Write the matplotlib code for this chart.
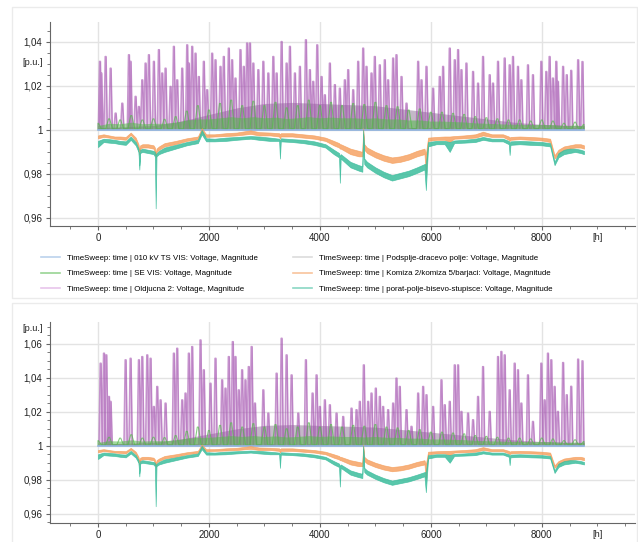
import numpy as np
import matplotlib
matplotlib.use('Agg')
import matplotlib.pyplot as plt
from matplotlib.lines import Line2D
from matplotlib.patches import Rectangle
from matplotlib.ticker import MultipleLocator, FuncFormatter

plt.rcParams['font.family'] = ['Liberation Sans Narrow', 'Liberation Sans', 'DejaVu Sans']

# ---- series data (hour of year -> voltage in p.u.) ----
labels = [
    'TimeSweep: time | 010 kV TS VIS: Voltage, Magnitude',
    'TimeSweep: time | SE VIS: Voltage, Magnitude',
    'TimeSweep: time | Oldjucna 2: Voltage, Magnitude',
    'TimeSweep: time | Podsplje-dracevo polje: Voltage, Magnitude',
    'TimeSweep: time | Komiza 2/komiza 5/barjaci: Voltage, Magnitude',
    'TimeSweep: time | porat-polje-bisevo-stupisce: Voltage, Magnitude',
]

# 010 kV TS VIS (slack, flat)
blue_hours = [0, 8760]
blue_vals = [1.0, 1.0]

# Komiza / porat-polje envelopes
band_hours = [0, 100, 200, 300, 400, 500, 590, 680, 730, 745,
              760, 800, 900, 1000, 1025, 1040, 1055, 1100, 1200, 1400,
              1600, 1800, 1870, 1950, 2100, 2300, 2500, 2750, 2900, 3100,
              3265, 3280, 3295, 3500, 3700, 3900, 4100, 4250, 4345, 4360,
              4375, 4550, 4700, 4765, 4780, 4800, 4850, 5000, 5150, 5300,
              5450, 5600, 5750, 5885, 5910, 5950, 6100, 6250, 6340, 6420,
              6600, 6800, 6940, 7100, 7300, 7405, 7420, 7435, 7600, 7800,
              8000, 8150, 8230, 8300, 8400, 8500, 8600, 8700, 8760]
orange_hi = [.9975, .9980, .9975, .9970, .9970, .9968, .9988, .9965, .9935, .9910,
             .9930, .9935, .9935, .9930, .9920, .9890, .9915, .9925, .9940, .9950,
             .9962, .9970, 1.0008, .9980, .9980, .9985, .9988, .9998, .9990, .9988,
             .9985, .9980, .9985, .9985, .9980, .9975, .9965, .9950, .9940, .9935,
             .9935, .9915, .9905, .9900, 1.0007, .9935, .9920, .9900, .9885, .9875,
             .9880, .9890, .9905, .9915, .9890, .9965, .9968, .9970, .9970, .9972,
             .9975, .9980, .9992, .9980, .9980, .9970, .9965, .9968, .9970, .9968,
             .9965, .9960, .9885, .9910, .9925, .9930, .9935, .9935, .9930]
orange_lo = [.9962, .9968, .9965, .9960, .9958, .9955, .9978, .9950, .9915, .9890,
             .9915, .9920, .9920, .9915, .9900, .9875, .9900, .9910, .9925, .9935,
             .9950, .9958, .9990, .9968, .9970, .9972, .9975, .9982, .9975, .9975,
             .9970, .9960, .9970, .9970, .9965, .9960, .9950, .9930, .9920, .9915,
             .9915, .9890, .9880, .9880, .9990, .9910, .9895, .9875, .9860, .9850,
             .9855, .9865, .9880, .9890, .9800, .9950, .9955, .9955, .9945, .9960,
             .9962, .9965, .9975, .9968, .9968, .9955, .9950, .9955, .9958, .9955,
             .9952, .9945, .9870, .9890, .9910, .9915, .9920, .9920, .9915]
teal_hi = [.9950, .9960, .9958, .9955, .9950, .9948, .9970, .9945, .9915, .9840,
           .9910, .9915, .9910, .9905, .9900, .9885, .9895, .9905, .9920, .9932,
           .9945, .9955, 1.0000, .9962, .9960, .9965, .9968, .9972, .9970, .9965,
           .9960, .9950, .9962, .9958, .9955, .9948, .9935, .9910, .9895, .9880,
           .9890, .9855, .9840, .9835, 1.0000, .9870, .9855, .9830, .9810, .9795,
           .9805, .9815, .9830, .9845, .9845, .9945, .9950, .9950, .9945, .9952,
           .9955, .9960, .9968, .9960, .9960, .9950, .9940, .9948, .9950, .9948,
           .9945, .9940, .9855, .9895, .9910, .9915, .9915, .9910, .9905]
teal_lo = [.9922, .9945, .9942, .9940, .9935, .9932, .9955, .9930, .9900, .9820,
           .9895, .9900, .9895, .9890, .9880, .9644, .9880, .9890, .9900, .9915,
           .9930, .9940, .9980, .9948, .9948, .9950, .9955, .9960, .9955, .9950,
           .9950, .9870, .9948, .9945, .9940, .9932, .9920, .9890, .9875, .9760,
           .9870, .9830, .9815, .9810, .9980, .9845, .9830, .9805, .9785, .9770,
           .9780, .9790, .9805, .9820, .9727, .9925, .9935, .9935, .9900, .9940,
           .9942, .9945, .9955, .9948, .9948, .9935, .9886, .9932, .9935, .9932,
           .9930, .9925, .9840, .9875, .9890, .9895, .9900, .9895, .9890]

# SE VIS envelope
green_hours = [0, 200, 400, 600, 800, 1000, 1200, 1400, 1600, 1800,
               2000, 2200, 2400, 2600, 2800, 3000, 3200, 3400, 3600, 3800,
               4000, 4200, 4400, 4600, 4800, 5000, 5200, 5400, 5600, 5800,
               6000, 6200, 6400, 6600, 6800, 7000, 7200, 7400, 7600, 7800,
               8000, 8200, 8400, 8600, 8760]
green_hi = [1.0030, 1.0050, 1.0045, 1.0065, 1.0045, 1.0050, 1.0048, 1.0060, 1.0085, 1.0110,
            1.0090, 1.0120, 1.0135, 1.0110, 1.0130, 1.0110, 1.0125, 1.0100, 1.0110, 1.0135,
            1.0110, 1.0125, 1.0110, 1.0120, 1.0115, 1.0125, 1.0110, 1.0105, 1.0090, 1.0095,
            1.0080, 1.0080, 1.0075, 1.0070, 1.0060, 1.0055, 1.0050, 1.0045, 1.0045, 1.0040,
            1.0045, 1.0040, 1.0030, 1.0035, 1.0025]
green_core = [1.0020, 1.0030, 1.0028, 1.0035, 1.0028, 1.0030, 1.0030, 1.0035, 1.0045, 1.0050,
              1.0050, 1.0055, 1.0060, 1.0055, 1.0060, 1.0055, 1.0058, 1.0052, 1.0055, 1.0060,
              1.0055, 1.0058, 1.0055, 1.0055, 1.0052, 1.0055, 1.0050, 1.0050, 1.0045, 1.0045,
              1.0040, 1.0040, 1.0038, 1.0036, 1.0032, 1.0030, 1.0028, 1.0026, 1.0026, 1.0024,
              1.0025, 1.0024, 1.0020, 1.0022, 1.0018]
green_floor = 1.0005

# Podsplje-dracevo polje envelope
gray_hours = [0, 500, 1000, 1500, 2000, 2500, 3000, 3500, 4000, 4500,
              5000, 5500, 6000, 6500, 7000, 7500, 8000, 8500, 8760]
gray_hi = [1.0010, 1.0015, 1.0020, 1.0040, 1.0070, 1.0100, 1.0120, 1.0125, 1.0120, 1.0115,
           1.0110, 1.0095, 1.0080, 1.0065, 1.0050, 1.0035, 1.0025, 1.0020, 1.0020]

# Oldjucna 2 peaks, case 1 (upper chart)
pu1_hours = [36, 60, 138, 228, 318, 438, 558, 588, 678, 738,
             798, 858, 918, 1008, 1098, 1158, 1218, 1308, 1368, 1428,
             1518, 1608, 1638, 1698, 1758, 1818, 1908, 1968, 2058, 2118,
             2208, 2268, 2358, 2418, 2478, 2568, 2628, 2688, 2740, 2800,
             2890, 2980, 3070, 3160, 3220, 3310, 3400, 3460, 3550, 3640,
             3748, 3820, 3880, 3952, 4030, 4090, 4180, 4270, 4360, 4450,
             4510, 4600, 4690, 4780, 4840, 4930, 4990, 5080, 5170, 5230,
             5320, 5380, 5471, 5561, 5771, 5831, 5921, 6041, 6161, 6221,
             6341, 6431, 6491, 6551, 6641, 6761, 6851, 6941, 7061, 7121,
             7211, 7331, 7421, 7481, 7571, 7631, 7751, 7841, 7991, 8081,
             8141, 8201, 8261, 8291, 8384, 8450, 8530, 8655, 8733]
pu1_peaks = [1.0311, 1.0258, 1.0333, 1.0280, 1.0076, 1.0121, 1.0341, 1.0311, 1.0152, 1.0106,
             1.0227, 1.0303, 1.0341, 1.0311, 1.0364, 1.0258, 1.0280, 1.0197, 1.0379, 1.0227,
             1.0280, 1.0386, 1.0303, 1.0379, 1.0348, 1.0242, 1.0311, 1.0182, 1.0348, 1.0318,
             1.0288, 1.0333, 1.0371, 1.0318, 1.0235, 1.0364, 1.0288, 1.0394, 1.0394, 1.0303,
             1.0273, 1.0311, 1.0258, 1.0333, 1.0258, 1.0401, 1.0303, 1.0379, 1.0258, 1.0288,
             1.0409, 1.0273, 1.0220, 1.0386, 1.0242, 1.0159, 1.0303, 1.0205, 1.0189, 1.0227,
             1.0273, 1.0182, 1.0311, 1.0371, 1.0288, 1.0258, 1.0333, 1.0295, 1.0318, 1.0227,
             1.0326, 1.0341, 1.0242, 1.0121, 1.0311, 1.0227, 1.0288, 1.0189, 1.0242, 1.0288,
             1.0371, 1.0318, 1.0364, 1.0273, 1.0303, 1.0265, 1.0212, 1.0333, 1.0250, 1.0212,
             1.0311, 1.0326, 1.0295, 1.0333, 1.0288, 1.0227, 1.0295, 1.0250, 1.0311, 1.0265,
             1.0333, 1.0235, 1.0311, 1.0220, 1.0288, 1.0250, 1.0270, 1.0318, 1.0310]

# Oldjucna 2 peaks, case 2 (lower chart)
pu2_hours = [48, 108, 150, 198, 228, 498, 588, 738, 798, 888,
             948, 1008, 1068, 1128, 1218, 1368, 1428, 1518, 1578, 1638,
             1698, 1848, 1908, 2028, 2118, 2238, 2298, 2358, 2430, 2478,
             2538, 2598, 2658, 2718, 2770, 2830, 2980, 3070, 3220, 3310,
             3400, 3490, 3610, 3748, 3868, 3940, 4000, 4090, 4180, 4300,
             4420, 4570, 4660, 4720, 4792, 4870, 4930, 5008, 5080, 5140,
             5230, 5320, 5380, 5440, 5561, 5651, 5771, 5861, 5921, 6041,
             6191, 6251, 6341, 6431, 6491, 6551, 6671, 6761, 6851, 6941,
             7061, 7211, 7271, 7331, 7421, 7511, 7571, 7631, 7751, 7841,
             7991, 8051, 8111, 8171, 8231, 8291, 8384, 8450, 8530, 8655,
             8733]
pu2_peaks = [1.0486, 1.0545, 1.0535, 1.0290, 1.0261, 1.0506, 1.0515, 1.0506, 1.0525, 1.0535,
             1.0515, 1.0231, 1.0349, 1.0270, 1.0251, 1.0545, 1.0574, 1.0270, 1.0310, 1.0545,
             1.0584, 1.0623, 1.0447, 1.0368, 1.0515, 1.0388, 1.0339, 1.0525, 1.0613, 1.0525,
             1.0329, 1.0447, 1.0388, 1.0466, 1.0584, 1.0251, 1.0329, 1.0192, 1.0427, 1.0633,
             1.0535, 1.0417, 1.0192, 1.0506, 1.0310, 1.0417, 1.0231, 1.0270, 1.0241, 1.0192,
             1.0172, 1.0221, 1.0212, 1.0261, 1.0476, 1.0261, 1.0310, 1.0339, 1.0290, 1.0231,
             1.0212, 1.0251, 1.0398, 1.0349, 1.0212, 1.0114, 1.0310, 1.0349, 1.0300, 1.0231,
             1.0388, 1.0241, 1.0261, 1.0476, 1.0476, 1.0202, 1.0192, 1.0153, 1.0290, 1.0466,
             1.0202, 1.0525, 1.0555, 1.0535, 1.0329, 1.0486, 1.0447, 1.0251, 1.0417, 1.0143,
             1.0486, 1.0270, 1.0545, 1.0506, 1.0349, 1.0202, 1.0490, 1.0300, 1.0350, 1.0510,
             1.0500]
purple_floor = 1.0005

C_BLUE = '#8fb4e0'
C_GREEN = '#55b84c'
C_PURPLE = '#a24fae'
C_GRAY = '#9c8aa2'
C_ORANGE = '#f59d5a'
C_TEAL = '#3cbd9d'


def spikes(hours, peaks, base, half=30, top=8):
    xs, ys = [], []
    for h, p in zip(hours, peaks):
        xs += [h - half, h - top, h + top, h + half]
        ys += [base, p, p, base]
    # keep the traces inside the simulated year
    return np.clip(xs, blue_hours[0], blue_hours[-1]), np.array(ys)


def pu_fmt(v, pos):
    s = f'{v:.2f}'.rstrip('0').rstrip('.')
    return s.replace('.', ',')


def draw_panel(ax, pu_hours, pu_peaks, yticks, ylim, pu_label_y):
    ax.fill_between(gray_hours, 1.0, gray_hi, color=C_GRAY, alpha=0.6, lw=0, zorder=2)

    # Oldjucna 2: narrow peaks with a light wash underneath
    xs, ys = spikes(pu_hours, pu_peaks, purple_floor)
    ax.fill_between(xs, purple_floor, ys, color=C_PURPLE, alpha=0.28, lw=0, zorder=3)
    ax.plot(xs, ys, color=C_PURPLE, lw=1.1, alpha=0.6, zorder=3)

    # SE VIS: envelope with a denser core near 1
    gx, gy = spikes(green_hours, green_hi, green_floor, half=60, top=10)
    ax.plot(gx, gy, color=C_GREEN, lw=0.8, alpha=0.7, zorder=4)
    ax.fill_between(green_hours, green_floor, green_core, color=C_GREEN, alpha=0.55, lw=0, zorder=4)

    ax.plot(blue_hours, blue_vals, color=C_BLUE, lw=1.2, zorder=5)
    ax.fill_between(band_hours, orange_lo, orange_hi, color=C_ORANGE, alpha=0.8, lw=0.5,
                    edgecolor=C_ORANGE, zorder=6)
    ax.fill_between(band_hours, teal_lo, teal_hi, color=C_TEAL, alpha=0.85, lw=0.5,
                    edgecolor=C_TEAL, zorder=7)

    ax.set_xlim(-865, 9680)
    ax.set_ylim(*ylim)
    ax.set_xticks([0, 2000, 4000, 6000, 8000])
    ax.xaxis.set_minor_locator(MultipleLocator(500))
    ax.set_yticks(yticks)
    ax.yaxis.set_minor_locator(MultipleLocator(0.005))
    ax.yaxis.set_major_formatter(FuncFormatter(pu_fmt))
    ax.grid(True, which='major', color='#e3e3e3', lw=1.0, zorder=0)
    for s in ['top', 'right']:
        ax.spines[s].set_visible(False)
    for s in ['left', 'bottom']:
        ax.spines[s].set_color('#666666')
        ax.spines[s].set_linewidth(0.8)
    ax.tick_params(which='both', colors='#666666', labelcolor='#222222', labelsize=7,
                   direction='out')
    ax.tick_params(which='major', length=3)
    ax.tick_params(which='minor', length=2)
    ax.tick_params(axis='x', pad=2.5)
    ax.tick_params(axis='y', pad=2.5)
    ax.text(-0.012, pu_label_y, '[p.u.]', transform=ax.get_yaxis_transform(),
            ha='right', va='center', fontsize=6.6, color='#222222')
    ax.annotate('[h]', xy=(9000, 0), xycoords=('data', 'axes fraction'),
                xytext=(0, -5.5), textcoords='offset points', ha='center', va='top',
                fontsize=6.6, color='#222222')


fig = plt.figure(figsize=(6.38, 5.42), dpi=100)
W, H = 638, 542

# panel frames
fig.patches.append(Rectangle((12 / W, 1 - 298 / H), 625 / W, 291 / H, transform=fig.transFigure,
                             fill=False, edgecolor='#ebebeb', lw=1))
fig.patches.append(Rectangle((12 / W, -0.01), 625 / W, 1 - 303 / H + 0.01, transform=fig.transFigure,
                             fill=False, edgecolor='#ebebeb', lw=1))

ax1 = fig.add_axes([50 / W, 1 - 225.7 / H, 585 / W, 203.7 / H])
draw_panel(ax1, pu1_hours, pu1_peaks, [0.96, 0.98, 1.0, 1.02, 1.04], (0.9565, 1.049), 1.0305)

ax2 = fig.add_axes([50 / W, 1 - 522.7 / H, 585 / W, 200.7 / H])
draw_panel(ax2, pu2_hours, pu2_peaks, [0.96, 0.98, 1.0, 1.02, 1.04, 1.06], (0.9547, 1.0729), 1.0688)

# legend (shared by both charts)
colors = [C_BLUE, C_GREEN, '#d99ede', '#c4c4c4', C_ORANGE, C_TEAL]
handles = [Line2D([], [], color=c, lw=1.2, alpha=0.6) for c in colors]
leg_kw = dict(frameon=False, fontsize=5.7, handlelength=2.4, handletextpad=0.9,
              labelspacing=1.05, borderaxespad=0, borderpad=0)
fig.legend(handles[:3], labels[:3], loc='upper left', bbox_to_anchor=(41 / W, 1 - 254 / H), **leg_kw)
fig.legend(handles[3:], labels[3:], loc='upper left', bbox_to_anchor=(293 / W, 1 - 254 / H), **leg_kw)

fig.savefig('out.png', dpi=100, facecolor='white')
